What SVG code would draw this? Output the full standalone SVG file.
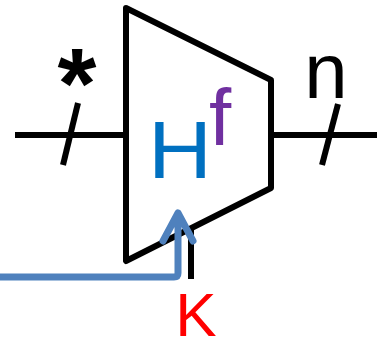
<svg xmlns="http://www.w3.org/2000/svg" width="377" height="342" viewBox="0 0 377 342">
<style>
.blk{fill:none;stroke:#000;stroke-width:6;stroke-linejoin:round}
.t{font-family:"Liberation Sans",Arial,sans-serif}
</style>
<rect width="377" height="342" fill="#fff"/>
<g id="mux">
<polygon class="blk" points="126,8 271,80 271,188 126,261"/>
<text class="t" x="148" y="178" font-size="82" fill="#0070C0" transform="translate(148 178) scale(1.08 1) translate(-148 -178)">H</text>
<text class="t" x="209" y="145" font-size="80" fill="#7030A0">f</text>
</g>
<g id="connectors">
<line class="blk" x1="15" y1="135" x2="126" y2="135" stroke-width="7"/>
<line class="blk" x1="78" y1="103" x2="63" y2="165" stroke-width="7" stroke-linecap="butt"/>
<line class="blk" x1="271" y1="135" x2="377" y2="135" stroke-width="7"/>
<line class="blk" x1="338" y1="104" x2="322" y2="165" stroke-width="7"/>
<line class="blk" x1="191" y1="229" x2="191" y2="279" stroke-width="8"/>
<path d="M0,277 H174 Q178,277 178,273 V213 M163,241 L178,213 L193,241" fill="none" stroke="#4F81BD" stroke-width="7" stroke-linecap="round" stroke-linejoin="round"/>
</g>
<g id="labels">
<text class="t" x="77" y="118" font-size="100" font-weight="bold" text-anchor="middle">*</text>
<text class="t" x="326" y="98" font-size="78" text-anchor="middle">n</text>
<text class="t" x="196" y="336" font-size="62" fill="#FF0000" text-anchor="middle">K</text>
</g>
</svg>
